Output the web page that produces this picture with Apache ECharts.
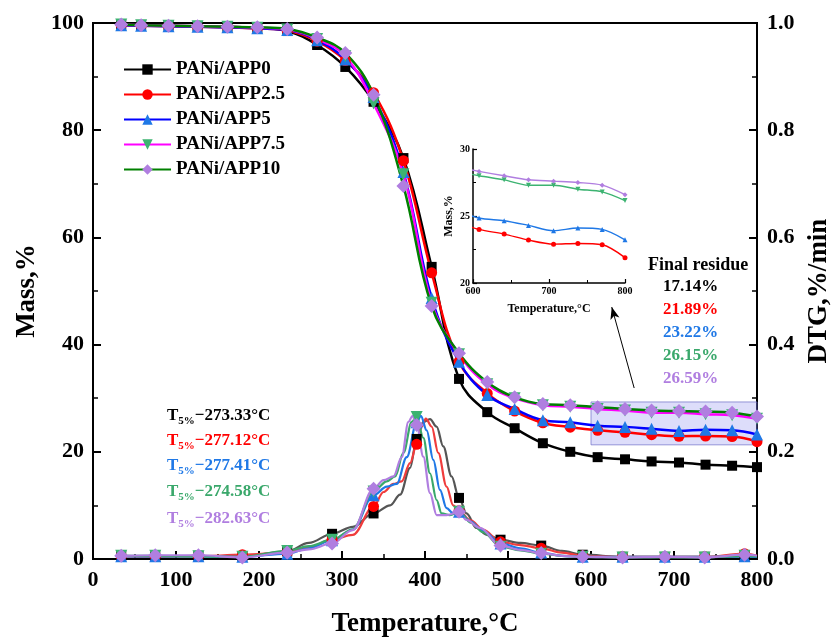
<!DOCTYPE html>
<html><head><meta charset="utf-8">
<script src="https://cdn.jsdelivr.net/npm/echarts@6/dist/echarts.min.js"></script>
<style>html,body{margin:0;padding:0;background:#fff}#c{width:832px;height:638px}</style>
</head><body><div id="c"></div>
<script>
// ---------------- DATA ----------------
const seriesNames = ['PANi/APP0', 'PANi/APP2.5', 'PANi/APP5', 'PANi/APP7.5', 'PANi/APP10'];

// TGA (mass %) sampled temperatures (°C)
const massT = [34, 58, 91, 126, 162, 198, 234, 270, 304, 338, 374, 408, 441, 475, 508, 542, 575, 608, 641, 673, 706, 738, 770, 800];
const massAPP0   = [99.7, 99.6, 99.5, 99.4, 99.3, 99.1, 98.5, 95.9, 91.8, 85.3, 74.8, 54.5, 33.6, 27.4, 24.4, 21.6, 20.0, 19.0, 18.6, 18.2, 18.0, 17.6, 17.4, 17.14];
const massAPP25  = [99.6, 99.5, 99.4, 99.3, 99.2, 99.0, 98.6, 96.6, 93.0, 87.0, 74.3, 53.4, 36.8, 30.9, 27.6, 25.4, 24.6, 24.0, 23.65, 23.2, 22.9, 22.95, 22.85, 21.89];
const massAPP5   = [99.6, 99.5, 99.4, 99.3, 99.2, 99.0, 98.7, 96.8, 93.2, 86.2, 72.2, 48.7, 36.8, 30.6, 28.0, 25.9, 25.5, 24.85, 24.65, 24.3, 23.9, 24.1, 24.0, 23.22];
const massAPP75  = [99.7, 99.6, 99.5, 99.4, 99.3, 99.1, 98.8, 97.0, 93.8, 85.0, 71.8, 47.8, 38.2, 32.6, 30.0, 28.7, 28.4, 28.0, 27.7, 27.3, 27.3, 27.0, 26.8, 26.15];
const massAPP10  = [99.7, 99.6, 99.5, 99.4, 99.3, 99.2, 98.9, 97.3, 94.4, 86.6, 69.6, 47.2, 38.4, 33.0, 30.2, 28.9, 28.7, 28.33, 28.0, 27.7, 27.6, 27.5, 27.3, 26.59];

// DTG (%/min) per series: temperatures and values
const dtgT_APP0  = [34, 75, 127, 180, 234, 260, 288, 313, 338, 358, 370, 382, 390, 398, 406, 414, 422, 432, 441, 450, 462, 475, 491, 515, 540, 565, 590, 638, 689, 737, 785, 800];
const dtgV_APP0  = [0.006, 0.005, 0.006, 0.005, 0.014, 0.03, 0.047, 0.06, 0.085, 0.1, 0.12, 0.17, 0.224, 0.256, 0.261, 0.247, 0.21, 0.154, 0.114, 0.085, 0.058, 0.045, 0.036, 0.03, 0.025, 0.015, 0.008, 0.004, 0.004, 0.004, 0.005, 0.004];
const dtgT_APP25 = [34, 75, 127, 180, 234, 260, 288, 313, 338, 350, 362, 372, 382, 390, 396, 401, 408, 416, 426, 434, 441, 455, 470, 491, 515, 540, 565, 590, 638, 689, 737, 785, 800];
const dtgV_APP25 = [0.005, 0.005, 0.005, 0.008, 0.012, 0.022, 0.036, 0.045, 0.098, 0.125, 0.14, 0.145, 0.179, 0.214, 0.247, 0.262, 0.247, 0.198, 0.135, 0.1, 0.09, 0.072, 0.055, 0.032, 0.026, 0.02, 0.012, 0.006, 0.004, 0.004, 0.004, 0.01, 0.006];
const dtgT_APP5  = [34, 75, 127, 180, 234, 260, 288, 313, 338, 354, 366, 378, 390, 395, 402, 410, 418, 426, 434, 441, 455, 470, 491, 515, 540, 565, 590, 638, 689, 737, 785, 800];
const dtgV_APP5  = [0.005, 0.005, 0.005, 0.004, 0.01, 0.02, 0.035, 0.055, 0.119, 0.135, 0.14, 0.19, 0.255, 0.267, 0.24, 0.185, 0.129, 0.095, 0.085, 0.088, 0.07, 0.052, 0.029, 0.02, 0.012, 0.006, 0.004, 0.004, 0.004, 0.004, 0.005, 0.004];
const dtgT_APP75 = [34, 75, 127, 180, 234, 260, 288, 313, 338, 354, 364, 374, 384, 390, 398, 406, 414, 420, 430, 441, 455, 470, 491, 515, 540, 565, 590, 638, 689, 737, 785, 800];
const dtgV_APP75 = [0.006, 0.006, 0.005, 0.004, 0.015, 0.024, 0.036, 0.055, 0.126, 0.145, 0.154, 0.198, 0.256, 0.265, 0.226, 0.16, 0.11, 0.085, 0.082, 0.088, 0.068, 0.05, 0.023, 0.016, 0.01, 0.006, 0.004, 0.003, 0.003, 0.003, 0.006, 0.005];
const dtgT_APP10 = [34, 75, 127, 180, 234, 260, 288, 313, 338, 350, 362, 372, 380, 385, 390, 398, 406, 414, 426, 441, 450, 466, 491, 515, 540, 565, 590, 638, 689, 737, 785, 800];
const dtgV_APP10 = [0.006, 0.007, 0.007, 0.003, 0.012, 0.018, 0.029, 0.054, 0.131, 0.147, 0.154, 0.19, 0.256, 0.267, 0.25, 0.191, 0.123, 0.082, 0.082, 0.088, 0.073, 0.058, 0.025, 0.017, 0.011, 0.006, 0.004, 0.003, 0.004, 0.003, 0.008, 0.006];
const dtgMarkerT = [34, 75, 127, 180, 234, 288, 338, 390, 441, 491, 540, 590, 638, 689, 737, 785];

const t5Values = ['273.33', '277.12', '277.41', '274.58', '282.63'];
const residueLabels = ['17.14%', '21.89%', '23.22%', '26.15%', '26.59%'];
const residueBox = [[600, 21.3], [800, 29.3]];
const arrowFromTo = [[652, 31.9], [625, 47.0]];

// ---------------- STYLE ----------------
const FF = '"Liberation Serif","Times New Roman",serif';
const massLineColors = ['#000000', '#ff0000', '#0000ff', '#ff00ff', '#008000'];
const markerColors   = ['#000000', '#ff0000', '#1f78e6', '#3cb371', '#b07ee0'];
const dtgLineColors  = ['#555555', '#f03c3c', '#1f78e6', '#3aa86b', '#b07ee0'];
const textColors     = ['#000000', '#ff0000', '#1f78e6', '#3aa86b', '#b07ee0'];
const symbols = ['rect', 'circle', 'triangle', 'triangle', 'diamond'];
const symbolRot = [0, 0, 0, 180, 0];
const symbolSizes = [10, 11, 12, 12, 14];

const massArrays = [massAPP0, massAPP25, massAPP5, massAPP75, massAPP10];
const dtgTs = [dtgT_APP0, dtgT_APP25, dtgT_APP5, dtgT_APP75, dtgT_APP10];
const dtgVs = [dtgV_APP0, dtgV_APP25, dtgV_APP5, dtgV_APP75, dtgV_APP10];

const series = [];
// DTG curves
for (let k = 0; k < 5; k++) {
  series.push({
    name: seriesNames[k] + ' DTG', type: 'line', xAxisIndex: 0, yAxisIndex: 1,
    data: dtgTs[k].map((t, i) => [t, dtgVs[k][i]]),
    smooth: 0.35, smoothMonotone: 'x', showAllSymbol: true,
    symbol: (v) => dtgMarkerT.includes(v[0]) ? symbols[k] : 'none',
    symbolSize: symbolSizes[k], symbolRotate: symbolRot[k],
    lineStyle: { color: dtgLineColors[k], width: 2.2 },
    itemStyle: { color: markerColors[k] },
    z: 2
  });
}
// Mass curves
for (let k = 0; k < 5; k++) {
  const s = {
    name: seriesNames[k], type: 'line', xAxisIndex: 0, yAxisIndex: 0,
    data: massT.map((t, i) => [t, massArrays[k][i]]),
    smooth: 0.4, showAllSymbol: true,
    symbol: symbols[k], symbolSize: symbolSizes[k], symbolRotate: symbolRot[k],
    lineStyle: { color: massLineColors[k], width: 2.5 },
    itemStyle: { color: markerColors[k] },
    z: 3
  };
  if (k === 4) {
    s.markArea = {
      silent: true,
      itemStyle: { color: 'rgba(120,120,235,0.25)', borderColor: 'rgba(110,110,200,0.7)', borderWidth: 1 },
      data: [[{ coord: residueBox[0] }, { coord: residueBox[1] }]]
    };
    s.markLine = {
      silent: true, animation: false,
      symbol: ['none', 'arrow'], symbolSize: [7, 12],
      lineStyle: { color: '#000', width: 1, type: 'solid' },
      label: { show: false },
      data: [[{ coord: arrowFromTo[0] }, { coord: arrowFromTo[1] }]]
    };
  }
  series.push(s);
}
// Inset curves (APP2.5 .. APP10)
for (let k = 1; k < 5; k++) {
  series.push({
    name: seriesNames[k] + ' inset', type: 'line', xAxisIndex: 1, yAxisIndex: 2,
    data: massT.map((t, i) => [t, massArrays[k][i]]).filter(p => p[0] >= 570),
    smooth: 0.3, showAllSymbol: true, clip: true,
    symbol: symbols[k], symbolSize: 5, symbolRotate: symbolRot[k],
    lineStyle: { color: markerColors[k], width: 1.4 },
    itemStyle: { color: markerColors[k] }
  });
}

const axisCommon = {
  axisLine: { show: true, lineStyle: { color: '#000', width: 2 } },
  axisTick: { show: true, inside: true, length: 8, lineStyle: { color: '#000', width: 2 } },
  minorTick: { show: true, splitNumber: 2, length: 5, lineStyle: { color: '#000', width: 1.5 } },
  splitLine: { show: false },
  axisLabel: { fontSize: 22, fontWeight: 'bold', fontFamily: FF, color: '#000' },
  nameTextStyle: { fontSize: 27, fontWeight: 'bold', fontFamily: FF, color: '#000' }
};
const insetAxis = {
  axisLine: { show: true, lineStyle: { color: '#000', width: 1.5 } },
  axisTick: { show: true, inside: true, length: 4, lineStyle: { color: '#000', width: 1.2 } },
  minorTick: { show: true, splitNumber: 2, length: 3, lineStyle: { color: '#000', width: 1 } },
  splitLine: { show: false },
  axisLabel: { fontSize: 10, fontWeight: 'bold', fontFamily: FF, color: '#000', margin: 3 },
  nameTextStyle: { fontSize: 12, fontWeight: 'bold', fontFamily: FF, color: '#000' }
};

const graphics = [];
const t5Tops = [407, 432, 457, 483, 510];
for (let k = 0; k < 5; k++) {
  const c = textColors[k];
  graphics.push({
    type: 'text', left: 167, top: t5Tops[k],
    style: {
      text: '{a|T}{s|5%}{a|−' + t5Values[k] + '°C}',
      rich: {
        a: { fontSize: 17, fontWeight: 'bold', fontFamily: FF, fill: c, lineHeight: 22, verticalAlign: 'middle' },
        s: { fontSize: 11, fontWeight: 'bold', fontFamily: FF, fill: c, verticalAlign: 'bottom' }
      }
    }
  });
}
graphics.push({
  type: 'text', left: 648, top: 256,
  style: { text: 'Final residue', fontSize: 18, fontWeight: 'bold', fontFamily: FF, fill: '#000' }
});
const resTops = [278, 301, 324, 347, 370];
for (let k = 0; k < 5; k++) {
  graphics.push({
    type: 'text', left: 663, top: resTops[k],
    style: { text: residueLabels[k], fontSize: 17, fontWeight: 'bold', fontFamily: FF, fill: textColors[k] }
  });
}

const option = {
  animation: false,
  backgroundColor: '#fff',
  grid: [
    { left: 93, top: 23, width: 664, height: 536, show: true, borderColor: '#000', borderWidth: 2, backgroundColor: 'transparent', containLabel: false, outerBoundsMode: 'none' },
    { left: 473, top: 149, width: 152, height: 134, containLabel: false, outerBoundsMode: 'none' }
  ],
  legend: {
    data: seriesNames, orient: 'vertical', left: 118, top: 55,
    itemWidth: 47, itemHeight: 13, itemGap: 6,
    textStyle: { fontSize: 19, fontWeight: 'bold', fontFamily: FF, color: '#000' }
  },
  xAxis: [
    Object.assign({}, axisCommon, {
      gridIndex: 0, type: 'value', min: 0, max: 800, interval: 100,
      name: 'Temperature,°C', nameLocation: 'middle', nameGap: 52,
      axisLabel: Object.assign({}, axisCommon.axisLabel, { margin: 10 })
    }),
    Object.assign({}, insetAxis, {
      gridIndex: 1, type: 'value', min: 600, max: 800, interval: 100,
      name: 'Temperature,°C', nameLocation: 'middle', nameGap: 20
    })
  ],
  yAxis: [
    Object.assign({}, axisCommon, {
      gridIndex: 0, type: 'value', min: 0, max: 100, interval: 20, position: 'left',
      name: 'Mass,%', nameLocation: 'middle', nameGap: 50,
      axisLabel: Object.assign({}, axisCommon.axisLabel, { margin: 9 })
    }),
    Object.assign({}, axisCommon, {
      gridIndex: 0, type: 'value', min: 0, max: 1.0, interval: 0.2, position: 'right',
      name: 'DTG,%/min', nameLocation: 'middle', nameGap: 40,
      axisLabel: Object.assign({}, axisCommon.axisLabel, { margin: 10, formatter: v => v.toFixed(1) })
    }),
    Object.assign({}, insetAxis, {
      gridIndex: 1, type: 'value', min: 20, max: 30, interval: 5,
      name: 'Mass,%', nameLocation: 'middle', nameGap: 18
    })
  ],
  series: series,
  graphic: graphics
};

const chart = echarts.init(document.getElementById('c'), null, { renderer: 'canvas' });
chart.setOption(option);
</script>
</body></html>
